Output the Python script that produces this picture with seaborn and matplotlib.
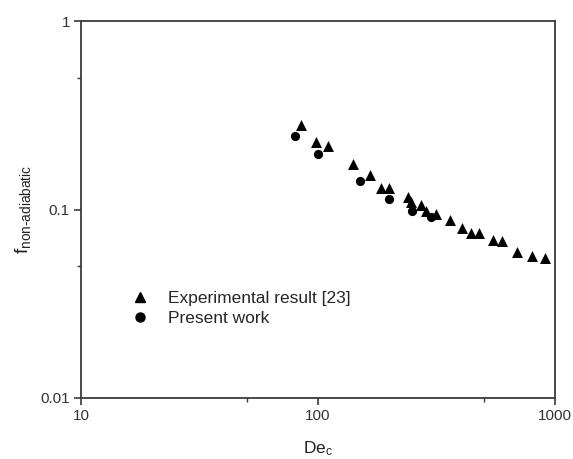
import matplotlib
matplotlib.use("Agg")
import matplotlib.pyplot as plt
import seaborn as sns
import pandas as pd
from matplotlib.lines import Line2D

# Experimental friction factors (triangles)
exp_de = [85, 98, 110, 141, 166, 184, 200, 240, 247, 272, 286, 314,
          362, 404, 444, 480, 548, 597, 691, 799, 908]
exp_f = [0.281, 0.229, 0.216, 0.175, 0.153, 0.130, 0.130, 0.116, 0.110,
         0.106, 0.098, 0.095, 0.0875, 0.0794, 0.075, 0.0755, 0.0692,
         0.068, 0.0598, 0.057, 0.0551]

# Present computations (circles)
sim_de = [80, 100, 150, 200, 250, 300]
sim_f = [0.246, 0.198, 0.1416, 0.114, 0.0976, 0.0908]

labels = ["Experimental result [23]", "Present work"]
x_ticks = [10, 100, 1000]
x_ticklabels = ["10", "100", "1000"]
y_ticks = [0.01, 0.1, 1]
y_ticklabels = ["0.01", "0.1", "1"]

sns.set_theme(style="ticks")
plt.rcParams["font.family"] = ["Liberation Sans", "DejaVu Sans"]
plt.rcParams["mathtext.fontset"] = "custom"
plt.rcParams["mathtext.rm"] = "Liberation Sans"
plt.rcParams["mathtext.it"] = "Liberation Sans"

df_exp = pd.DataFrame({"De": exp_de, "f": exp_f})
df_sim = pd.DataFrame({"De": sim_de, "f": sim_f})

fig = plt.figure(figsize=(5.73, 4.59), dpi=100)
ax = fig.add_axes([0.1414, 0.1329, 0.8272, 0.8213])

sns.scatterplot(data=df_exp, x="De", y="f", marker="^", color="black",
                s=62, linewidth=0, ax=ax)
sns.scatterplot(data=df_sim, x="De", y="f", marker="o", color="black",
                s=44, linewidth=0, ax=ax)

ax.set_xscale("log")
ax.set_yscale("log")
ax.set_xlim(10, 1000)
ax.set_ylim(0.01, 1)

ax.set_xticks(x_ticks)
ax.set_xticklabels(x_ticklabels)
ax.set_xticks([50, 500], minor=True)
ax.set_xticklabels(["", ""], minor=True)
ax.set_yticks(y_ticks)
ax.set_yticklabels(y_ticklabels)
ax.set_yticks([0.05, 0.5], minor=True)
ax.set_yticklabels(["", ""], minor=True)

edge = "#3a3a3a"
for side in ["left", "right", "top", "bottom"]:
    ax.spines[side].set_visible(True)
    ax.spines[side].set_linewidth(1.3)
    ax.spines[side].set_color(edge)

ax.tick_params(which="major", direction="out", length=5, width=1.2,
               color=edge, labelsize=11, labelcolor="#333333", pad=3)
ax.tick_params(which="minor", direction="out", length=3, width=1.0,
               color=edge)
ax.tick_params(top=False, right=False, which="both")

ax.set_xlabel(r"De$_{\mathrm{c}}$", fontsize=12.5, color="#222222", labelpad=11.5)
ax.set_ylabel(r"f$_{\mathrm{non\text{-}adiabatic}}$", fontsize=14,
              color="#222222", labelpad=5)

handles = [
    Line2D([], [], marker="^", color="black", linestyle="none", markersize=7.5),
    Line2D([], [], marker="o", color="black", linestyle="none", markersize=6.5),
]
ax.legend(handles, labels, loc="upper left", bbox_to_anchor=(0.106, 0.284),
          frameon=False, fontsize=12.5, borderpad=0, handlelength=1.0,
          handletextpad=1.1, labelspacing=0.3, borderaxespad=0)

fig.savefig("out.png", dpi=100, facecolor="white")
